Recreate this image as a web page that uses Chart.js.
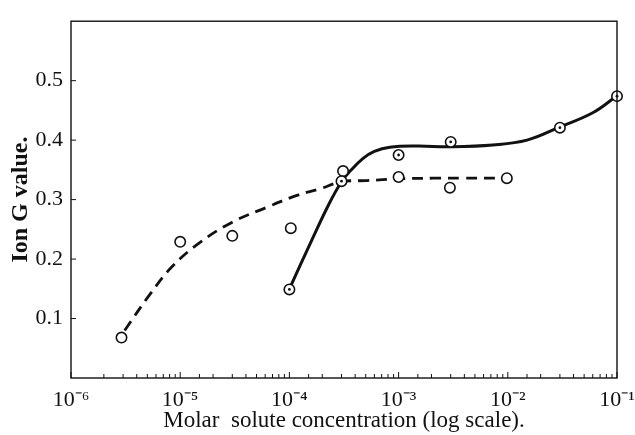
<!DOCTYPE html>
<html>
<head>
<meta charset="utf-8">
<script src="https://cdn.jsdelivr.net/npm/chart.js@4"></script>
<style>
  html, body { margin: 0; padding: 0; background: #fff; }
  canvas { display: block; }
</style>
</head>
<body>
<canvas id="c" width="635" height="435"></canvas>
<script>
// ---- data ----
// open circles (dashed curve series)
const openX = [2.9e-6, 1.0e-5, 3.0e-5, 1.03e-4, 3.1e-4, 1.0e-3, 2.95e-3, 9.8e-3];
const openY = [0.068, 0.229, 0.239, 0.252, 0.348, 0.338, 0.320, 0.336];
// dotted circles (solid curve series)
const dotX = [1.0e-4, 3.0e-4, 1.0e-3, 3.0e-3, 3.0e-2, 1.0e-1];
const dotY = [0.149, 0.331, 0.375, 0.397, 0.421, 0.474];
// dashed fitted curve, traced
const dashedCurveX = [3.1e-6, 5.3e-6, 8.4e-6, 1.52e-5, 3.0e-5, 6.2e-5, 1.17e-4, 1.9e-4, 3.0e-4, 5.1e-4, 1.0e-3, 2.1e-3, 3.9e-3, 9.4e-3];
const dashedCurveY = [0.080, 0.141, 0.187, 0.228, 0.262, 0.287, 0.307, 0.318, 0.330, 0.332, 0.335, 0.336, 0.336, 0.336];
// solid fitted curve, traced
const solidCurveX = [1.03e-4, 1.55e-4, 2.31e-4, 3.0e-4, 3.6e-4, 4.7e-4, 6.0e-4, 8.3e-4, 1.47e-3, 2.96e-3, 7.3e-3, 1.5e-2, 2.9e-2, 6.0e-2, 9.6e-2];
const solidCurveY = [0.155, 0.226, 0.293, 0.330, 0.348, 0.369, 0.381, 0.388, 0.390, 0.389, 0.392, 0.400, 0.421, 0.446, 0.472];
// tick labels
const xTickExponents = [-6, -5, -4, -3, -2, -1];
const xTickLabels = ['10\u207B\u2076', '10\u207B\u2075', '10\u207B\u2074', '10\u207B\u00B3', '10\u207B\u00B2', '10\u207B\u00B9'];
const yTickValues = [0.1, 0.2, 0.3, 0.4, 0.5];
const yTickLabels = ['0.1', '0.2', '0.3', '0.4', '0.5'];
const xTitle = 'Molar  solute concentration (log scale).';
const yTitle = 'Ion G value.';

const pts = (xs, ys) => xs.map((x, i) => ({ x: x, y: ys[i] }));
const INK = '#111';
const SERIF = '"Liberation Serif", "Times New Roman", serif';

const frame = {
  id: 'frame',
  afterDraw(chart) {
    const ctx = chart.ctx, a = chart.chartArea;
    const xs = chart.scales.x, ys = chart.scales.y;
    ctx.save();
    ctx.strokeStyle = INK;
    ctx.lineWidth = 1.4;
    ctx.strokeRect(a.left, a.top, a.right - a.left, a.bottom - a.top);
    ctx.lineWidth = 1;
    ctx.beginPath();
    xs.ticks.forEach(t => {
      const px = xs.getPixelForValue(t.value);
      const e = Math.log10(t.value);
      const major = Math.abs(e - Math.round(e)) < 1e-9;
      ctx.moveTo(px, a.bottom);
      ctx.lineTo(px, a.bottom - (major ? 6 : 4));
    });
    yTickValues.forEach(v => {
      const py = ys.getPixelForValue(v);
      ctx.moveTo(a.left, py);
      ctx.lineTo(a.left + 5, py);
    });
    ctx.stroke();
    ctx.restore();
  }
};

new Chart(document.getElementById('c'), {
  type: 'scatter',
  data: {
    datasets: [
      { // center dots of dotted circles
        data: pts(dotX, dotY), pointRadius: 1.4, pointBackgroundColor: INK,
        pointBorderWidth: 0, showLine: false, clip: false
      },
      {
        data: pts(dotX, dotY), pointRadius: 5.2, pointBackgroundColor: '#fff',
        pointBorderColor: INK, pointBorderWidth: 1.6, showLine: false, clip: false
      },
      {
        data: pts(openX, openY), pointRadius: 5.2, pointBackgroundColor: '#fff',
        pointBorderColor: INK, pointBorderWidth: 1.6, showLine: false, clip: false
      },
      {
        data: pts(solidCurveX, solidCurveY), showLine: true, pointRadius: 0,
        borderColor: INK, borderWidth: 3, tension: 0.4, clip: false
      },
      {
        data: pts(dashedCurveX, dashedCurveY), showLine: true, pointRadius: 0,
        borderColor: INK, borderWidth: 2.8, borderDash: [11, 7],
        tension: 0.4, clip: false
      }
    ]
  },
  options: {
    responsive: false,
    animation: false,
    events: [],
    layout: { padding: { top: 15, right: 18, left: 0, bottom: 0 } },
    plugins: { legend: { display: false }, tooltip: { enabled: false } },
    scales: {
      x: {
        type: 'logarithmic',
        min: 1e-6, max: 1e-1,
        grid: { display: false, drawTicks: false },
        border: { display: false },
        ticks: {
          autoSkip: false, maxRotation: 0, padding: 9,
          color: INK, font: { family: SERIF, size: 22 },
          callback: (v) => {
            const e = Math.log10(v);
            const k = xTickExponents.indexOf(Math.round(e));
            return (Math.abs(e - Math.round(e)) < 1e-9 && k >= 0) ? xTickLabels[k] : '';
          }
        },
        title: {
          display: true, text: xTitle, color: INK,
          font: { family: SERIF, size: 23 }, padding: { top: 0, bottom: 0 }
        },
        afterFit: (s) => { s.height = 57; s.paddingLeft = 0; s.paddingRight = 0; }
      },
      y: {
        min: 0, max: 0.6,
        grid: { display: false, drawTicks: false },
        border: { display: false },
        ticks: {
          stepSize: 0.1, padding: 8, color: INK,
          font: { family: SERIF, size: 22 },
          callback: (v) => {
            const k = yTickValues.findIndex(t => Math.abs(t - v) < 1e-9);
            return k >= 0 ? yTickLabels[k] : '';
          }
        },
        title: {
          display: true, text: yTitle, color: INK,
          font: { family: SERIF, size: 24, weight: 'bold' }, padding: { top: 6, bottom: 0 }
        },
        afterFit: (s) => { s.width = 71; }
      }
    }
  },
  plugins: [frame]
});
</script>
</body>
</html>
